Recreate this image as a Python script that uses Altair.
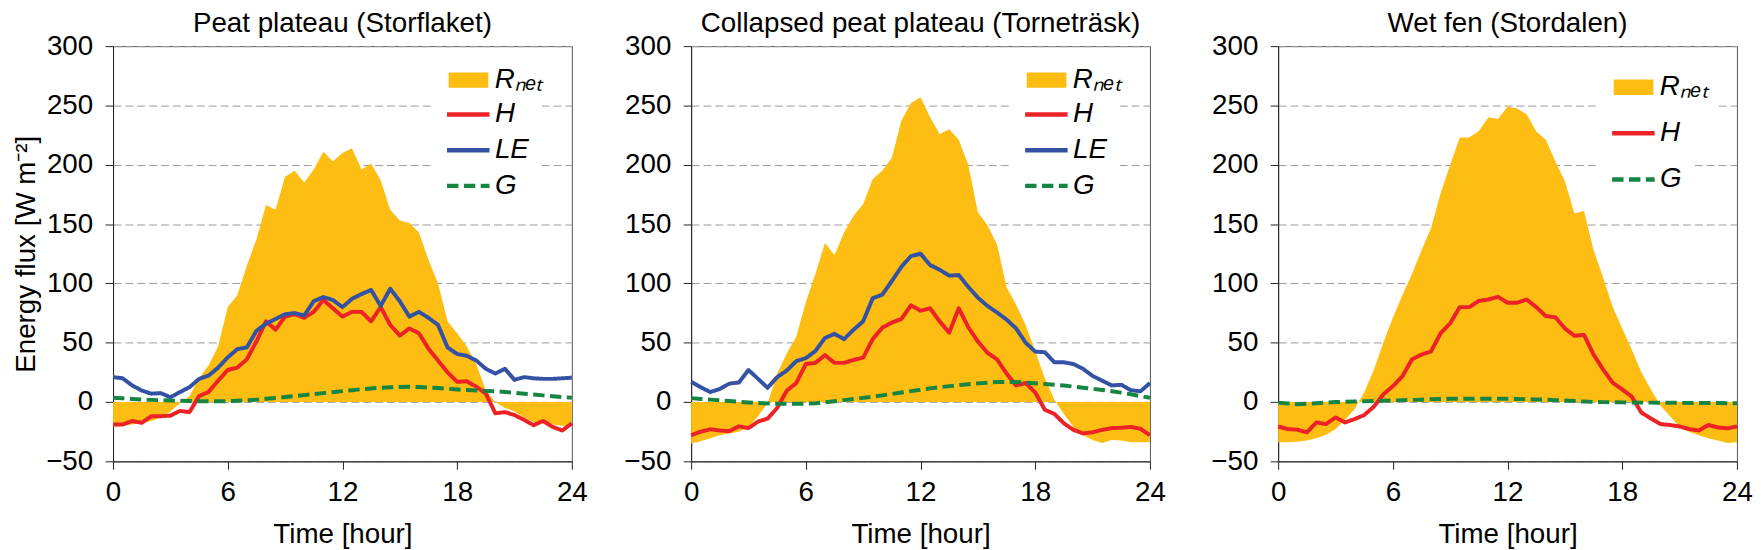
import altair as alt
import pandas as pd

# ---------------- data ----------------
HOURS = [0, 0.5, 1, 1.5, 2, 2.5, 3, 3.5, 4, 4.5, 5, 5.5, 6, 6.5, 7, 7.5, 8, 8.5,
         9, 9.5, 10, 10.5, 11, 11.5, 12, 12.5, 13, 13.5, 14, 14.5, 15, 15.5, 16,
         16.5, 17, 17.5, 18, 18.5, 19, 19.5, 20, 20.5, 21, 21.5, 22, 22.5, 23,
         23.5, 24]

PANEL_TITLES = ["Peat plateau (Storflaket)",
                "Collapsed peat plateau (Torneträsk)",
                "Wet fen (Stordalen)"]
SERIES_NAMES = ["Rₙₑₜ", "H", "LE", "G"]
SERIES_COLORS = ["#FDBD13", "#EC2227", "#3352A3", "#168541"]
SERIES_DASH = [[1, 0], [1, 0], [1, 0], [11.5, 5.5]]
X_TICKS = [0, 6, 12, 18, 24]
Y_TICKS = [-50, 0, 50, 100, 150, 200, 250, 300]
X_TITLE = "Time [hour]"
Y_TITLE = "Energy flux [W m⁻²]"

# Panel 1: Storflaket
RNET_1 = [-21, -20, -19, -18, -16, -13, -8, -1, 5, 20, 31, 47, 80, 90, 115, 137,
          166, 162, 190, 195, 185, 196, 211, 203, 210, 214, 196, 201, 187, 162,
          153, 151, 143, 120, 100, 68, 58, 47, 32, 10, 0, -5, -8, -13, -17, -18,
          -19, -20, -20]
H_1 = [-19, -19, -16, -17.5, -12, -12, -11.5, -7.5, -8.5, 5, 8.5, 18, 27, 29, 36,
       51, 68, 61, 72, 74, 71, 76, 86, 79, 72, 76, 76, 68, 80, 65, 56, 62, 58, 45,
       35, 25, 17, 17.5, 13, 7, -9.5, -8.5, -11, -15, -19.5, -16, -21, -24, -18]
LE_1 = [21, 20, 14, 9.7, 7, 7.5, 4, 8.4, 12.5, 19.5, 22.3, 29, 37.6, 44.6, 46, 60,
        66, 70, 74, 75, 73, 85, 88.5, 86, 80, 87, 91, 94.5, 81, 95.5, 85, 72, 76,
        71, 65, 46, 40.5, 39, 35, 28, 24, 28, 18.7, 21, 20, 19.5, 19.5, 20, 20.5]
G_1 = [3.6, 3.2, 2.6, 2.1, 1.8, 1.5, 1.2, 1.0, 0.8, 0.7, 0.6, 0.6, 0.7, 1.0, 1.4,
       2.0, 2.7, 3.4, 4.2, 5.0, 5.8, 6.7, 7.5, 8.3, 9.2, 10.0, 10.8, 11.4, 12.0,
       12.4, 12.7, 12.8, 12.6, 12.2, 11.8, 11.2, 10.6, 10.1, 9.7, 9.4, 9.1, 8.5,
       7.8, 7.0, 6.3, 5.6, 4.9, 4.2, 3.6]

# Panel 2: Tornetrask
RNET_2 = [-35, -33, -30.5, -28, -26.5, -25, -21, -12, -1, 24, 41, 55, 84, 108, 134,
          124, 143, 157, 167, 188, 195, 206, 237, 252, 257, 240, 226, 230, 221, 200,
          160, 149, 133, 97, 82, 65, 43, 20, 2, -10, -21, -28, -32, -34.5, -32,
          -32.5, -34, -34, -34]
H_2 = [-28, -25, -23, -24, -24.5, -20.5, -22, -16.5, -14, -5, 9.5, 16, 32, 33, 39.5,
       33, 33, 35.5, 37.5, 53, 62.7, 67, 70, 81.5, 77, 79, 68, 58.5, 79, 63, 51,
       41.5, 36, 24, 14, 16, 8, -6.5, -10, -18, -23.5, -26.5, -25.5, -23.5, -22,
       -21.7, -21, -22.5, -28]
LE_2 = [17, 12.5, 8.4, 11, 15.5, 16.5, 27, 19.5, 12, 21, 26.5, 34.5, 37, 43, 54,
        57.5, 53, 61, 68, 87.5, 90.5, 102, 114, 123, 125, 115.5, 111.5, 106.5, 107,
        97, 88, 81, 75.5, 69.5, 62, 50, 42.5, 42, 33.5, 33.5, 32, 28, 22, 18, 14,
        14.5, 10, 9, 16]
G_2 = [3.3, 2.6, 2.0, 1.4, 0.8, 0.2, -0.4, -0.9, -1.2, -1.4, -1.5, -1.5, -1.4, -1.0,
       -0.2, 0.7, 1.6, 2.5, 3.5, 4.5, 5.6, 6.8, 8.0, 9.2, 10.4, 11.5, 12.5, 13.4,
       14.2, 15.0, 15.7, 16.3, 16.8, 17.0, 16.8, 16.3, 15.8, 15.2, 14.6, 13.9,
       13.0, 12.1, 11.2, 10.2, 9.1, 7.9, 6.5, 5.0, 3.6]

# Panel 3: Stordalen
RNET_3 = [-34, -34, -33.5, -32.5, -30.5, -27.5, -23, -15, -6, 8, 27, 50, 71, 90,
          108, 128, 147, 176, 200, 223, 223, 228.5, 240, 238.5, 249, 247.5, 242.5,
          228, 221, 203, 186, 159, 161, 128, 105, 80, 62, 44, 25, 10.5, -3, -12,
          -21, -25, -28, -30.5, -32.5, -34.5, -34]
H_3 = [-20.6, -22.8, -23.3, -25.6, -17.2, -18.6, -13, -17.2, -14.4, -11, -4, 6.4,
       13.3, 21.7, 36, 40, 42.7, 58, 66.4, 80, 80, 85.3, 86.4, 88.7, 83.7, 83.7,
       86.4, 80, 72.5, 71.4, 62, 55.8, 56.6, 40, 27.4, 16.3, 10.6, 4.5, -8.9,
       -13.9, -18.6, -19.4, -20.6, -22.8, -24, -19.4, -21.4, -22.2, -20.6]
G_3 = [-0.5, -1.2, -1.8, -1.5, -1.0, -0.5, 0.0, 0.2, 0.4, 0.6, 0.8, 1.0, 1.3, 1.6,
       1.8, 2.0, 2.3, 2.5, 2.7, 2.8, 2.8, 2.8, 2.8, 2.8, 2.7, 2.6, 2.4, 2.2, 2.0,
       1.6, 1.2, 0.8, 0.4, 0.1, -0.1, -0.2, -0.3, -0.4, -0.5, -0.5, -0.6, -0.7,
       -0.7, -0.8, -0.8, -0.9, -0.9, -1.0, -1.0]

PANELS = [
    {"Rₙₑₜ": RNET_1, "H": H_1, "LE": LE_1, "G": G_1},
    {"Rₙₑₜ": RNET_2, "H": H_2, "LE": LE_2, "G": G_2},
    {"Rₙₑₜ": RNET_3, "H": H_3, "G": G_3},
]

# ---------------- style ----------------
FONT = "Liberation Sans"
FS = 28
W, HGT = 463, 419
R = SERIES_NAMES[0]
COL = dict(zip(SERIES_NAMES, SERIES_COLORS))
DASH = dict(zip(SERIES_NAMES, SERIES_DASH))
Y_EXTENT = [None, 68, 77]


def make_panel(i):
    series = PANELS[i]
    names = [n for n in SERIES_NAMES if n in series]
    line_names = [n for n in names if n != R]
    rows = [{"hour": h, "value": v, "series": n}
            for n in names for h, v in zip(HOURS, series[n])]
    df = pd.DataFrame(rows)
    three = len(names) == 3

    fill_legend = alt.Legend(
        orient="none", legendX=330.7, legendY=13.5 if three else 6.3,
        title=None, fillColor="white", padding=8, zindex=2,
        symbolType="M-1,-0.39H1V0.39H-1Z", symbolSize=1600,
        symbolStrokeWidth=0, symbolOffset=0, labelOffset=6.4,
        labelFont=FONT, labelFontSize=FS, labelFontStyle="italic",
        labelColor="black", labelLimit=0,
        labelExpr="datum.label + '   '")
    line_legend = alt.Legend(
        orient="none", legendX=323.9, legendY=53.4 if three else 34.4,
        title=None, fillColor="white", padding=12.6, zindex=1,
        rowPadding=10.6 if three else 0,
        symbolType="M-1.1,0H1.1", symbolSize=1521, symbolStrokeWidth=4.5,
        symbolOffset=0, labelOffset=4.85,
        labelFont=FONT, labelFontSize=FS, labelFontStyle="italic",
        labelColor="black", labelLimit=0,
        labelExpr="datum.label + '" + (" " * (5 if three else 4)) + "'")

    x = alt.X("hour:Q", scale=alt.Scale(domain=[0, 24], nice=False),
              axis=alt.Axis(values=X_TICKS, title=X_TITLE, grid=False,
                            labelFlush=False, labelOverlap=False,
                            labelPadding=10, titlePadding=13.5, tickSize=8))
    yaxis = dict(values=Y_TICKS, grid=True, gridDash=[8, 4], gridColor="#9a9a9a",
                 gridWidth=1, labelFlush=False, labelOverlap=False,
                 labelPadding=12.5, tickSize=8)
    if i == 0:
        yaxis.update(title=Y_TITLE, titlePadding=5.5)
    else:
        yaxis.update(title=None, minExtent=Y_EXTENT[i])
    y = alt.Y("value:Q", scale=alt.Scale(domain=[-50, 300], nice=False),
              axis=alt.Axis(**yaxis))

    base = alt.Chart(df)
    area = base.transform_filter(alt.datum.series == R).mark_area(
        opacity=1).encode(
            x=x, y=y, y2=alt.datum(0),
            fill=alt.Fill("series:N", scale=alt.Scale(domain=[R], range=[COL[R]]),
                          legend=fill_legend))
    lines = base.transform_filter(alt.datum.series != R).mark_line(
        strokeWidth=4, strokeJoin="round").encode(
            x=x, y=y,
            stroke=alt.Stroke("series:N",
                              scale=alt.Scale(domain=line_names,
                                              range=[COL[n] for n in line_names]),
                              legend=line_legend),
            strokeDash=alt.StrokeDash("series:N",
                                      scale=alt.Scale(domain=line_names,
                                                      range=[DASH[n] for n in line_names]),
                                      legend=line_legend))

    return alt.layer(area, lines).properties(
        width=W, height=HGT,
        title=alt.TitleParams(PANEL_TITLES[i], font=FONT, fontSize=FS,
                              fontWeight="normal", color="black", offset=-5.3,
                              anchor="middle"))


chart = alt.hconcat(make_panel(0), make_panel(1), make_panel(2), spacing=34.4
).resolve_scale(fill="independent", stroke="independent",
                strokeDash="independent"
).resolve_legend(fill="independent", stroke="independent",
                 strokeDash="independent"
).properties(padding={"left": 4, "right": 0, "top": -2, "bottom": 0}
).configure(background="white"
).configure_view(stroke="#555", strokeWidth=1
).configure_axis(labelFont=FONT, titleFont=FONT, labelFontSize=FS,
                 titleFontSize=FS, titleFontWeight="normal", labelColor="black",
                 titleColor="black", domainColor="#222", tickColor="#222",
                 domainWidth=1, tickWidth=1)

chart.save("out.html", embed_options={"renderer": "svg", "actions": False})
